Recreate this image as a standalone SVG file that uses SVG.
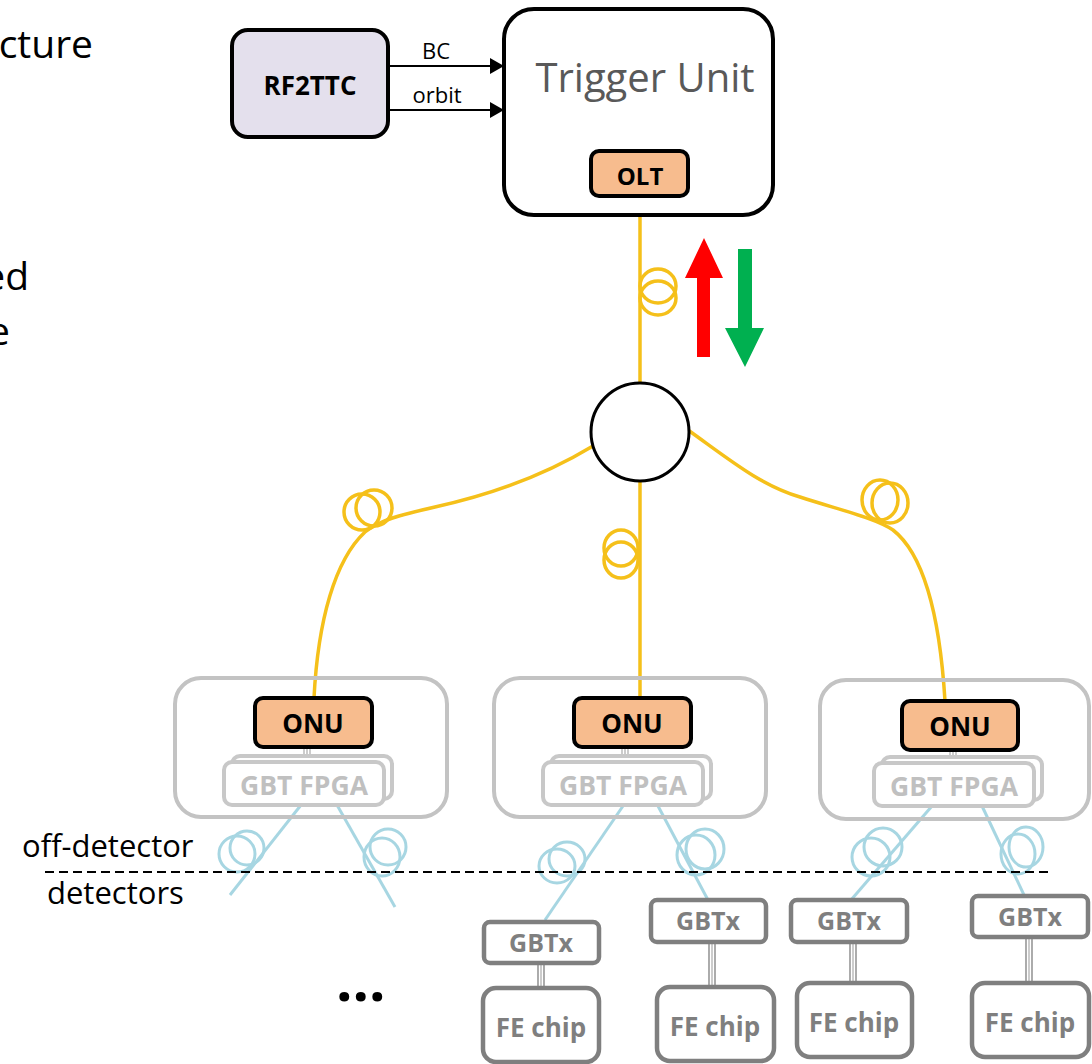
<svg xmlns="http://www.w3.org/2000/svg" width="1092" height="1064" viewBox="0 0 1092 1064">
<defs>
<marker id="ah" viewBox="0 0 14 16" refX="14" refY="8" markerWidth="14" markerHeight="16" markerUnits="userSpaceOnUse" orient="auto">
<path d="M0,0 L14,8 L0,16 Z" fill="#000"/>
</marker>
</defs>
<style>
text{font-family:"Open Sans","Liberation Sans",sans-serif;}
.big{font-size:39px;fill:#000;}
.lbl{font-size:31px;fill:#000;}
.b{font-weight:700;}
.peach{fill:#f7bc8e;stroke:#000;stroke-width:4;}
.encl{fill:none;stroke:#c3c3c3;stroke-width:4;}
.fpga{fill:#fff;stroke:#c8c8c8;stroke-width:4;}
.gbt{fill:#fff;stroke:#7f7f7f;stroke-width:4.5;}
.yel{fill:none;stroke:#f5c01a;stroke-width:3.5;}
.blu{fill:none;stroke:#a7d6e2;stroke-width:3;}
.tri{stroke:#7f7f7f;stroke-width:1.3;}
.trl{stroke:#aaaaaa;stroke-width:1.2;}
</style>
<rect width="1092" height="1064" fill="#fff"/>

<g id="slide-text">
<text class="big" x="93" y="58" text-anchor="end">cture</text>
<text class="big" x="29" y="290" text-anchor="end">ed</text>
<text class="big" x="10" y="345" text-anchor="end">e</text>
</g>

<g id="connectors">
<line x1="388" y1="66" x2="504" y2="66" stroke="#000" stroke-width="2" marker-end="url(#ah)"/>
<line x1="388" y1="110" x2="504" y2="110" stroke="#000" stroke-width="2" marker-end="url(#ah)"/>
<text x="436" y="59" text-anchor="middle" font-size="22">BC</text>
<text x="437" y="103" text-anchor="middle" font-size="22">orbit</text>

<!-- yellow fibres -->
<line class="yel" x1="640" y1="197" x2="640" y2="383"/>
<ellipse class="yel" cx="658" cy="286" rx="18" ry="17"/>
<ellipse class="yel" cx="658" cy="298" rx="18" ry="17"/>
<path class="yel" d="M593,446 C545,475 490,495 435,507 C400,515 380,520 365,532 C335,560 318,620 314,698"/>
<ellipse class="yel" cx="362" cy="512" rx="18" ry="18"/>
<ellipse class="yel" cx="374" cy="508" rx="18" ry="18"/>
<line class="yel" x1="640" y1="481" x2="640" y2="699"/>
<ellipse class="yel" cx="621" cy="548" rx="17" ry="18"/>
<ellipse class="yel" cx="621" cy="560" rx="17" ry="18"/>
<path class="yel" d="M688,430 C730,460 760,485 800,497 C840,510 875,518 893,530 C925,555 940,620 945,701"/>
<ellipse class="yel" cx="880" cy="500" rx="18" ry="20"/>
<ellipse class="yel" cx="890" cy="503" rx="18" ry="20"/>

<!-- direction arrows -->
<path d="M697,357 L697,278 L685,278 L704,238 L723,278 L710,278 L710,357 Z" fill="#ff0000"/>
<path d="M738,249 L752,249 L752,328 L764,328 L745,367 L725,328 L738,328 Z" fill="#00b050"/>

<!-- blue fibres -->
<line class="blu" x1="301" y1="805" x2="230" y2="895"/>
<ellipse class="blu" cx="237" cy="854" rx="18" ry="18"/>
<ellipse class="blu" cx="247" cy="848" rx="17" ry="17"/>
<line class="blu" x1="337" y1="805" x2="395" y2="907"/>
<ellipse class="blu" cx="382" cy="857" rx="18" ry="19"/>
<ellipse class="blu" cx="388" cy="847" rx="18" ry="18"/>

<line class="blu" x1="623" y1="806" x2="545" y2="920"/>
<ellipse class="blu" cx="557" cy="866" rx="18" ry="17"/>
<ellipse class="blu" cx="567" cy="859" rx="18" ry="17"/>
<line class="blu" x1="658" y1="806" x2="708" y2="900"/>
<ellipse class="blu" cx="696" cy="855" rx="19" ry="20"/>
<ellipse class="blu" cx="705" cy="849" rx="19" ry="20"/>

<line class="blu" x1="932" y1="806" x2="851" y2="900"/>
<ellipse class="blu" cx="871" cy="857" rx="19" ry="19"/>
<ellipse class="blu" cx="883" cy="847" rx="19" ry="19"/>
<line class="blu" x1="982" y1="806" x2="1024" y2="895"/>
<ellipse class="blu" cx="1018" cy="854" rx="17" ry="20"/>
<ellipse class="blu" cx="1026" cy="847" rx="17" ry="20"/>

<!-- GBTx to FE chip links -->
<g>
<line class="tri" x1="538" y1="963" x2="538" y2="988"/><line class="trl" x1="541" y1="963" x2="541" y2="988"/><line class="tri" x1="544" y1="963" x2="544" y2="988"/>
<line class="tri" x1="709" y1="942" x2="709" y2="987"/><line class="trl" x1="712" y1="942" x2="712" y2="987"/><line class="tri" x1="715" y1="942" x2="715" y2="987"/>
<line class="tri" x1="850" y1="942" x2="850" y2="983"/><line class="trl" x1="853" y1="942" x2="853" y2="983"/><line class="tri" x1="856" y1="942" x2="856" y2="983"/>
<line class="tri" x1="1026" y1="937" x2="1026" y2="983"/><line class="trl" x1="1029" y1="937" x2="1029" y2="983"/><line class="tri" x1="1032" y1="937" x2="1032" y2="983"/>
</g>
<!-- ONU to GBT FPGA links -->
<g>
<line class="trl" x1="304" y1="748" x2="304" y2="757"/><line class="trl" x1="307" y1="748" x2="307" y2="757"/><line class="trl" x1="310" y1="748" x2="310" y2="757"/>
<line class="trl" x1="622" y1="748" x2="622" y2="757"/><line class="trl" x1="625" y1="748" x2="625" y2="757"/><line class="trl" x1="628" y1="748" x2="628" y2="757"/>
<line class="trl" x1="950" y1="751" x2="950" y2="757"/><line class="trl" x1="953" y1="751" x2="953" y2="757"/><line class="trl" x1="956" y1="751" x2="956" y2="757"/>
</g>

<line x1="45" y1="872" x2="1049" y2="872" stroke="#000" stroke-width="2" stroke-dasharray="9 5"/>
</g>

<g id="rf2ttc">
<rect x="232" y="30" width="156" height="107" rx="16" fill="#e4e0ed" stroke="#000" stroke-width="4"/>
<text x="310" y="95" text-anchor="middle" font-size="26" class="b">RF2TTC</text>
</g>

<g id="trigger-unit">
<rect x="504" y="9" width="269" height="206" rx="30" fill="#fff" stroke="#000" stroke-width="4"/>
<text x="645" y="92" text-anchor="middle" font-size="40" fill="#595959">Trigger Unit</text>
</g>

<g id="olt">
<rect class="peach" x="591" y="151" width="97" height="45" rx="8"/>
<text x="640" y="185" text-anchor="middle" font-size="24" class="b">OLT</text>
</g>

<g id="splitter">
<circle cx="640" cy="432" r="49" fill="#fff" stroke="#000" stroke-width="3"/>
</g>

<g id="onu-left">
<rect class="encl" x="175" y="678" width="272" height="139" rx="26"/>
<rect class="peach" x="255" y="698" width="117" height="49" rx="8"/>
<text x="313" y="733" text-anchor="middle" font-size="26" class="b">ONU</text>
<rect class="fpga" x="232" y="756" width="160" height="43" rx="8"/>
<rect class="fpga" x="224" y="762" width="160" height="43" rx="8"/>
<text x="304" y="795" text-anchor="middle" font-size="26.5" class="b" fill="#c0c0c0">GBT FPGA</text>
</g>

<g id="onu-middle">
<rect class="encl" x="494" y="678" width="272" height="139" rx="26"/>
<rect class="peach" x="574" y="698" width="117" height="49" rx="8"/>
<text x="632" y="733" text-anchor="middle" font-size="26" class="b">ONU</text>
<rect class="fpga" x="551" y="756" width="160" height="43" rx="8"/>
<rect class="fpga" x="543" y="762" width="160" height="43" rx="8"/>
<text x="623" y="795" text-anchor="middle" font-size="26.5" class="b" fill="#c0c0c0">GBT FPGA</text>
</g>

<g id="onu-right">
<rect class="encl" x="820" y="680" width="269" height="139" rx="26"/>
<rect class="peach" x="902" y="701" width="116" height="49" rx="8"/>
<text x="960" y="736" text-anchor="middle" font-size="26" class="b">ONU</text>
<rect class="fpga" x="882" y="757" width="160" height="43" rx="8"/>
<rect class="fpga" x="874" y="763" width="160" height="43" rx="8"/>
<text x="954" y="796" text-anchor="middle" font-size="26.5" class="b" fill="#c0c0c0">GBT FPGA</text>
</g>

<g id="labels">
<text class="lbl" x="22" y="857">off-detector</text>
<text class="lbl" x="47" y="904">detectors</text>
<text x="336" y="1001" font-size="58" class="b">...</text>
</g>

<g id="gbtx-1">
<rect class="gbt" x="484" y="922" width="115" height="41" rx="6"/>
<text x="541" y="952" text-anchor="middle" font-size="25" class="b" fill="#7f7f7f">GBTx</text>
</g>
<g id="gbtx-2">
<rect class="gbt" x="651" y="900" width="115" height="42" rx="6"/>
<text x="708" y="930" text-anchor="middle" font-size="25" class="b" fill="#7f7f7f">GBTx</text>
</g>
<g id="gbtx-3">
<rect class="gbt" x="791" y="900" width="116" height="42" rx="6"/>
<text x="849" y="930" text-anchor="middle" font-size="25" class="b" fill="#7f7f7f">GBTx</text>
</g>
<g id="gbtx-4">
<rect class="gbt" x="972" y="896" width="116" height="41" rx="6"/>
<text x="1030" y="926" text-anchor="middle" font-size="25" class="b" fill="#7f7f7f">GBTx</text>
</g>

<g id="fe-1">
<rect class="gbt" x="483" y="988" width="116" height="74" rx="13"/>
<text x="541" y="1037" text-anchor="middle" font-size="26" class="b" fill="#7f7f7f">FE chip</text>
</g>
<g id="fe-2">
<rect class="gbt" x="657" y="987" width="117" height="74" rx="13"/>
<text x="715" y="1036" text-anchor="middle" font-size="26" class="b" fill="#7f7f7f">FE chip</text>
</g>
<g id="fe-3">
<rect class="gbt" x="797" y="983" width="115" height="74" rx="13"/>
<text x="854" y="1032" text-anchor="middle" font-size="26" class="b" fill="#7f7f7f">FE chip</text>
</g>
<g id="fe-4">
<rect class="gbt" x="972" y="983" width="117" height="74" rx="13"/>
<text x="1030" y="1032" text-anchor="middle" font-size="26" class="b" fill="#7f7f7f">FE chip</text>
</g>
</svg>
